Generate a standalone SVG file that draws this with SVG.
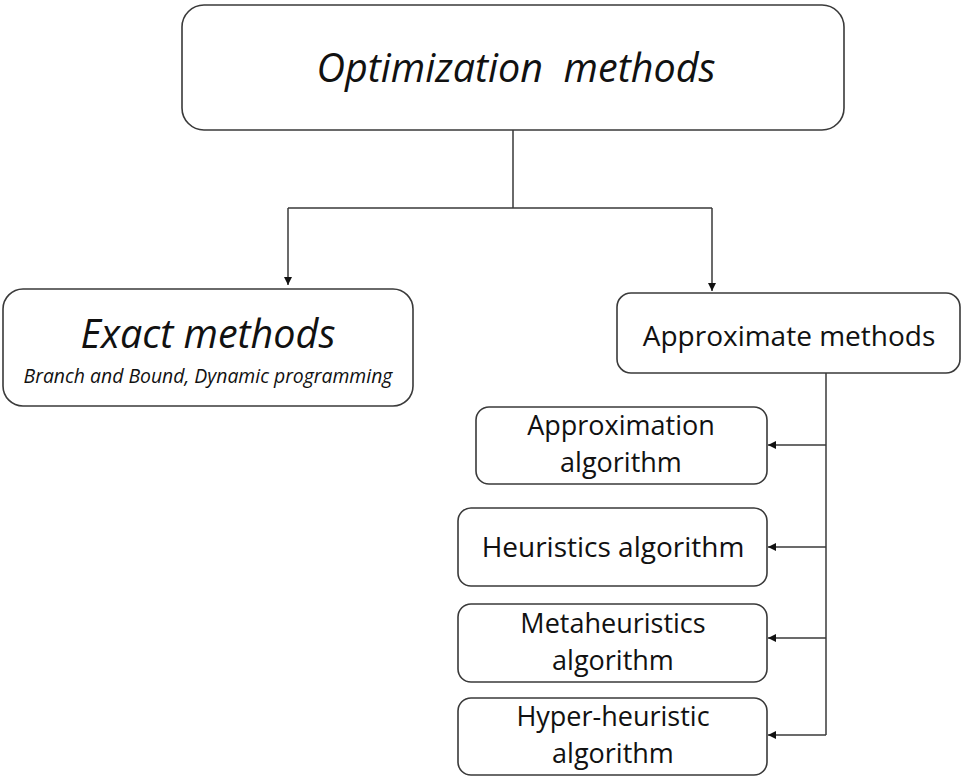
<svg xmlns="http://www.w3.org/2000/svg" width="961" height="777" viewBox="0 0 961 777">
<style>
.box{fill:#fff;stroke:#3a3a3a;stroke-width:1.6}
.t{font-family:"Open Sans","Liberation Sans",sans-serif;fill:#111;text-anchor:middle}
.i{font-style:italic}
.c{fill:none;stroke:#3a3a3a;stroke-width:1.5}
</style>
<defs>
<marker id="ah" viewBox="0 0 10 10" refX="10" refY="5" markerWidth="8" markerHeight="8" orient="auto" markerUnits="userSpaceOnUse">
<path d="M0,0 L10,5 L0,10 z" fill="#111"/>
</marker>
</defs>
<rect width="961" height="777" fill="#fff"/>
<g id="connectors">
<path class="c" d="M513,130 V208 M288,208 H712"/>
<path class="c" d="M288,208 V285" marker-end="url(#ah)"/>
<path class="c" d="M712,208 V291" marker-end="url(#ah)"/>
<path class="c" d="M826,373 V735"/>
<path class="c" d="M826,445 H768" marker-end="url(#ah)"/>
<path class="c" d="M826,547 H768" marker-end="url(#ah)"/>
<path class="c" d="M826,638 H768" marker-end="url(#ah)"/>
<path class="c" d="M826,735 H768" marker-end="url(#ah)"/>
</g>
<g id="optimization">
<rect class="box" x="182" y="5" width="662" height="125" rx="22"/>
<text class="t i" x="516" y="82" font-size="39.5" xml:space="preserve">Optimization  methods</text>
</g>
<g id="exact">
<rect class="box" x="3" y="289" width="410" height="117" rx="20"/>
<text class="t i" x="208" y="348" font-size="39.5">Exact methods</text>
<text class="t i" x="208" y="383" font-size="19.4">Branch and Bound, Dynamic programming</text>
</g>
<g id="approximate">
<rect class="box" x="617" y="293" width="343" height="80" rx="14"/>
<text class="t" x="789" y="346" font-size="28">Approximate methods</text>
</g>
<g id="approximation">
<rect class="box" x="476" y="407" width="291" height="77" rx="13"/>
<text class="t" x="621" y="435" font-size="27">Approximation</text>
<text class="t" x="621" y="472" font-size="27">algorithm</text>
</g>
<g id="heuristics">
<rect class="box" x="458" y="508" width="309" height="78" rx="13"/>
<text class="t" x="613" y="557" font-size="28">Heuristics algorithm</text>
</g>
<g id="metaheuristics">
<rect class="box" x="458" y="604" width="309" height="78" rx="13"/>
<text class="t" x="613" y="633" font-size="27">Metaheuristics</text>
<text class="t" x="613" y="670" font-size="27">algorithm</text>
</g>
<g id="hyperheuristic">
<rect class="box" x="458" y="698" width="309" height="77" rx="13"/>
<text class="t" x="613" y="726" font-size="27">Hyper-heuristic</text>
<text class="t" x="613" y="763" font-size="27">algorithm</text>
</g>
</svg>
